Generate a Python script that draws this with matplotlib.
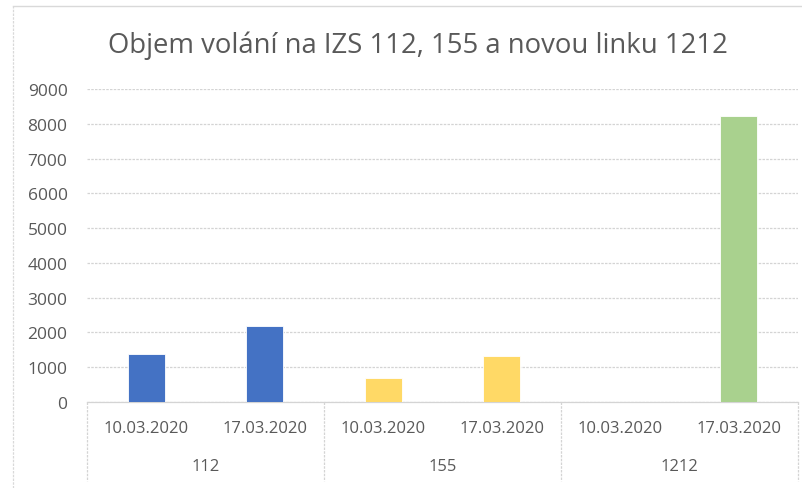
import matplotlib

matplotlib.use("Agg")
import matplotlib.pyplot as plt
from matplotlib.lines import Line2D
from matplotlib.transforms import blended_transform_factory

plt.rcParams["font.family"] = ["Open Sans", "DejaVu Sans"]

TITLE = "Objem volání na IZS 112, 155 a novou linku 1212"
LINES = ["112", "155", "1212"]
DATES = ["10.03.2020", "17.03.2020"]
CALLS_112 = [1370, 2190]
CALLS_155 = [680, 1330]
CALLS_1212 = [0, 8220]
COLORS = ["#4472C4", "#FFD966", "#A9D18E"]
Y_TICKS = list(range(0, 9001, 1000))

W, H = 803, 489
fig = plt.figure(figsize=(W / 100, H / 100), dpi=100)
ax = fig.add_axes([87 / W, 1 - 403 / H, (798 - 87) / W, (403 - 90) / H])

text_color = "#595959"
grid_color = "#D4D4D4"

series = [CALLS_112, CALLS_155, CALLS_1212]
for i, (values, color) in enumerate(zip(series, COLORS)):
    xs = [i * len(DATES) + j for j in range(len(DATES))]
    ax.bar(xs, values, width=0.31, color=color, edgecolor="white", linewidth=0.6, zorder=3)

n = len(LINES) * len(DATES)
ax.set_xlim(-0.5, n - 0.5)
ax.set_ylim(0, 9000)
ax.set_yticks(Y_TICKS)
ax.set_yticklabels([str(v) for v in Y_TICKS])
ax.set_xticks(range(n))
ax.set_xticklabels(DATES * len(LINES))
ax.tick_params(axis="y", length=0, pad=14, labelsize=12.5, colors=text_color)
ax.tick_params(axis="x", length=0, pad=13, labelsize=12, colors=text_color)
ax.grid(axis="y", color=grid_color, linewidth=0.9, linestyle=(0, (2, 1)), zorder=0)
for side in ["top", "right", "left"]:
    ax.spines[side].set_visible(False)
ax.spines["bottom"].set_color(grid_color)
ax.spines["bottom"].set_linestyle((0, (2, 1)))
ax.spines["bottom"].set_linewidth(0.9)

# multi-level category axis: separators and group labels
trans = blended_transform_factory(ax.transData, ax.transAxes)
sep_bottom = -(482 - 403) / (403 - 90)
for k in range(len(LINES) + 1):
    x = k * len(DATES) - 0.5
    ax.plot([x, x], [0, sep_bottom], transform=trans, color=grid_color,
            linewidth=0.9, linestyle=(0, (2, 1)), clip_on=False)
for i, name in enumerate(LINES):
    ax.text(i * len(DATES) + (len(DATES) - 1) / 2, -(467 - 403) / (403 - 90), name,
            transform=trans, ha="center", va="center", fontsize=12, color=text_color)

fig.text(418 / W, 1 - 46 / H, TITLE, ha="center", va="center", fontsize=19.8, color=text_color)

# chart area border
fig.add_artist(Line2D([13 / W, 1], [1 - 7 / H, 1 - 7 / H], transform=fig.transFigure,
                      color="#D9D9D9", linewidth=1.0))
fig.add_artist(Line2D([13 / W, 13 / W], [0, 1 - 7 / H], transform=fig.transFigure,
                      color="#D9D9D9", linewidth=0.9, linestyle=(0, (2, 1))))

fig.savefig("out.png", dpi=100)
